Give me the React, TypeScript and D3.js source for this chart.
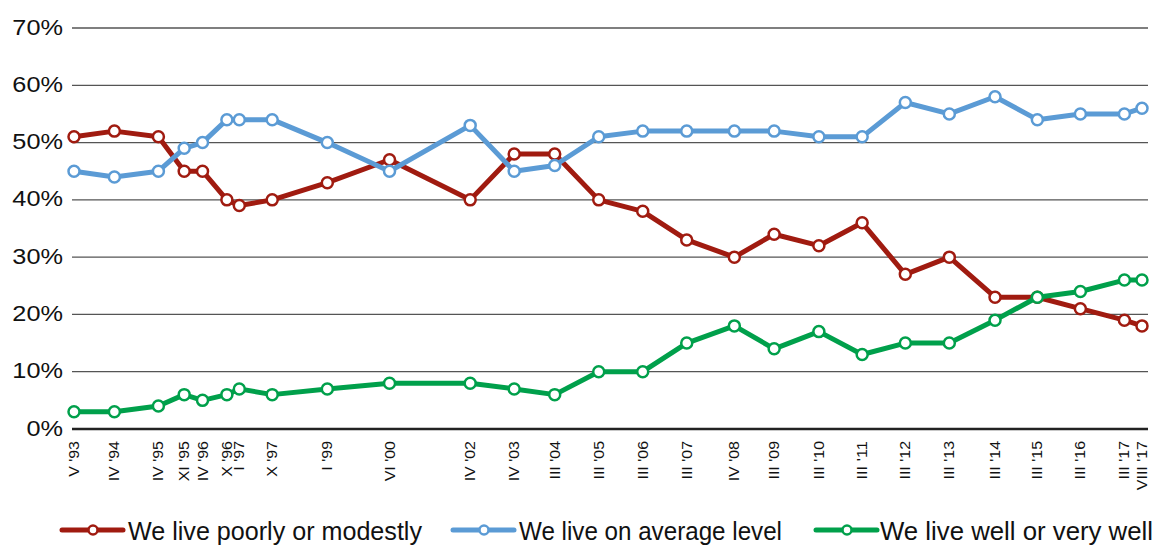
import * as d3 from "d3";

const periods = [
  "V '93", "IV '94", "IV '95", "XI '95", "IV '96", "X '96", "I '97", "X '97", "I '99", "VI '00",
  "IV '02", "IV '03", "III '04", "III '05", "III '06", "III '07", "IV '08", "III '09", "III '10",
  "III '11", "III '12", "III '13", "III '14", "III '15", "III '16", "III '17", "VIII '17",
];
// approximate fieldwork day within each survey month
const surveyDays = [1, 1, 1, 1, 1, 20, 31, 31, 31, 30, 30, 30, 31, 31, 31, 31, 29, 25, 31, 25, 17, 17, 31, 17, 8, 8, 1];
const poorly = [51, 52, 51, 45, 45, 40, 39, 40, 43, 47, 40, 48, 48, 40, 38, 33, 30, 34, 32, 36, 27, 30, 23, 23, 21, 19, 18];
const average = [45, 44, 45, 49, 50, 54, 54, 54, 50, 45, 53, 45, 46, 51, 52, 52, 52, 52, 51, 51, 57, 55, 58, 54, 55, 55, 56];
const well = [3, 3, 4, 6, 5, 6, 7, 6, 7, 8, 8, 7, 6, 10, 10, 15, 18, 14, 17, 13, 15, 15, 19, 23, 24, 26, 26];
const yTicks = [0, 10, 20, 30, 40, 50, 60, 70];

const series = [
  { name: "We live poorly or modestly", values: poorly, color: "#A01B10" },
  { name: "We live on average level", values: average, color: "#5B9BD5" },
  { name: "We live well or very well", values: well, color: "#00A04B" },
];

const roman: Record<string, number> = { I: 1, II: 2, III: 3, IV: 4, V: 5, VI: 6, VII: 7, VIII: 8, IX: 9, X: 10, XI: 11, XII: 12 };
function toDate(label: string, day: number) {
  const [m, y] = label.split(" '");
  const yy = +y;
  return new Date(yy > 50 ? 1900 + yy : 2000 + yy, roman[m] - 1, day);
}
const dates = periods.map((p, i) => toDate(p, surveyDays[i]));

// rough Arial advance widths, used to stretch text like the source image
const adv: Record<string, number> = { "%": 0.889, " ": 0.278, "'": 0.191, I: 0.278, V: 0.667, X: 0.667 };
const textW = (s: string, size: number) =>
  s.split("").reduce((a, c) => a + (adv[c] ?? 0.556), 0) * size;

export default function App() {
  const width = 1155;
  const height = 545;
  const left = 72;
  const right = 1148;
  const x = d3.scaleTime().domain([dates[0], dates[dates.length - 1]]).range([74, 1142]);
  const y = d3.scaleLinear().domain([0, 70]).range([429, 28]);
  const line = d3
    .line<number>()
    .x((_, i) => x(dates[i]))
    .y((d) => y(d));

  const legendX = [62, 453, 816];
  const legendW = [294, 263, 273];

  return (
    <svg
      width={width}
      height={height}
      style={{ position: "absolute", left: 0, top: 0, fontFamily: "Arial, 'Liberation Sans', sans-serif" }}
    >
      <rect width={width} height={height} fill="#fff" />
      {yTicks.map((t) => (
        <g key={t}>
          {t > 0 && <line x1={left} x2={right} y1={y(t)} y2={y(t)} stroke="#555" strokeWidth={1.3} />}
          <text
            x={63}
            y={y(t)}
            dy="0.3em"
            textAnchor="end"
            fontSize={22}
            fill="#111"
            textLength={textW(`${t}%`, 22) * 1.15}
            lengthAdjust="spacingAndGlyphs"
          >
            {t}%
          </text>
        </g>
      ))}
      <line x1={left} x2={right} y1={y(0)} y2={y(0)} stroke="#222" strokeWidth={2.5} />
      {periods.map((p, i) => (
        <text
          key={p}
          transform={`translate(${x(dates[i]) + 5},441) rotate(-90)`}
          textAnchor="end"
          fontSize={14}
          fill="#111"
          textLength={textW(p, 14) * 1.14}
          lengthAdjust="spacingAndGlyphs"
        >
          {p}
        </text>
      ))}
      {series.map((s) => (
        <g key={s.name}>
          <path d={line(s.values) ?? ""} fill="none" stroke={s.color} strokeWidth={5} strokeLinejoin="round" />
          {s.values.map((v, i) => (
            <circle key={i} cx={x(dates[i])} cy={y(v)} r={5.5} fill="#fff" stroke={s.color} strokeWidth={2.5} />
          ))}
        </g>
      ))}
      {series.map((s, i) => (
        <g key={s.name} transform={`translate(${legendX[i]},530)`}>
          <line x1={0} x2={61} y1={0} y2={0} stroke={s.color} strokeWidth={5} strokeLinecap="round" />
          <circle cx={31} cy={0} r={4.5} fill="#fff" stroke={s.color} strokeWidth={2.5} />
          <text
            x={legendX[i] === 62 ? 66 : i === 1 ? 66 : 64}
            y={10}
            fontSize={26}
            fill="#111"
            textLength={legendW[i]}
            lengthAdjust="spacingAndGlyphs"
          >
            {s.name}
          </text>
        </g>
      ))}
    </svg>
  );
}
